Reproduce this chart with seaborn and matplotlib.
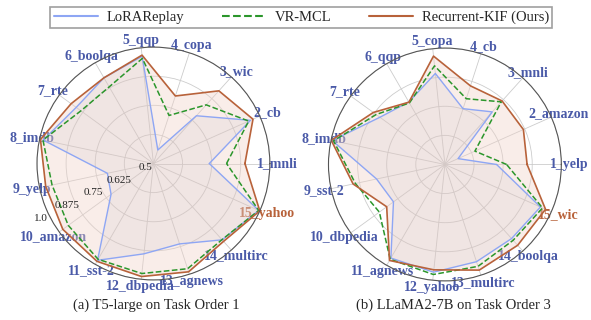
import numpy as np
import matplotlib
matplotlib.use('Agg')
import matplotlib.pyplot as plt
import seaborn as sns

# Data
left_labels = ['1_mnli', '2_cb', '3_wic', '4_copa', '5_qqp', '6_boolqa', '7_rte', '8_imdb',
               '9_yelp', '10_amazon', '11_sst-2', '12_dbpedia', '13_agnews', '14_multirc', '15_yahoo']
left_lora = [0.74, 0.956, 0.776, 0.561, 0.963, 0.925, 0.91, 0.984, 0.702, 0.725, 0.98, 0.89, 0.863, 0.941, 0.995]
left_vr = [0.814, 0.948, 0.839, 0.717, 0.954, 0.88, 0.885, 0.985, 0.945, 0.952, 0.975, 0.975, 0.975, 0.94, 0.995]
left_kif = [0.893, 0.968, 0.92, 0.805, 0.968, 0.925, 0.937, 0.996, 0.973, 0.981, 0.985, 0.988, 0.989, 0.95, 1.0]

right_labels = ['1_yelp', '2_amazon', '3_mnli', '4_cb', '5_copa', '6_qqp', '7_rte', '8_imdb',
                '9_sst-2', '10_dbpedia', '11_agnews', '12_yahoo', '13_multirc', '14_boolqa', '15_wic']
right_lora = [0.722, 0.562, 0.804, 0.752, 0.893, 0.81, 0.845, 0.995, 0.80, 0.773, 0.964, 0.965, 0.939, 0.928, 0.949]
right_vr = [0.765, 0.641, 0.862, 0.797, 0.926, 0.805, 0.865, 0.989, 0.893, 0.848, 0.97, 0.975, 0.96, 0.938, 0.959]
right_kif = [0.853, 0.869, 0.867, 0.855, 0.968, 0.809, 0.88, 0.999, 0.903, 0.809, 0.976, 0.955, 0.977, 0.967, 0.973]

radial_ticks = [0.5, 0.625, 0.75, 0.875, 1.0]
captions = ['(a) T5-large on Task Order 1', '(b) LLaMA2-7B on Task Order 3']
series_names = ['LoRAReplay', 'VR-MCL', 'Recurrent-KIF (Ours)']

sns.set_style('white')
plt.rcParams['font.family'] = ['Liberation Serif', 'DejaVu Serif']

c_lora = '#8ea6f4'
c_vr = '#2b962b'
c_kif = '#b8623a'
c_label = '#4a5aa8'

fig = plt.figure(figsize=(5.91, 3.2), dpi=100)
ax1 = fig.add_axes([0.0626, 0.125, 0.394, 0.728], projection='polar')
ax2 = fig.add_axes([0.5558, 0.122, 0.394, 0.728], projection='polar')


def radar(ax, labels, lora, vr, kif, show_r):
    n = len(labels)
    theta = np.arange(n) * 2 * np.pi / n
    th = np.append(theta, theta[0])
    # light fills: pink for ours, grey for LoRAReplay
    ax.fill(th, np.append(kif, kif[0]), color='#f0d2c8', alpha=0.4, lw=0)
    ax.fill(th, np.append(lora, lora[0]), color='#9a98a8', alpha=0.09, lw=0)
    series = [(lora, c_lora, '-', 1.0), (vr, c_vr, '--', 1.1), (kif, c_kif, '-', 1.2)]
    for vals, col, ls, lw in series:
        v = np.append(vals, vals[0])
        sns.lineplot(x=th, y=v, ax=ax, sort=False, estimator=None, color=col,
                     linestyle=ls, linewidth=lw)
    ax.set_ylim(0.5, 1.0)
    ax.set_yticks(radial_ticks)
    ax.set_yticklabels([])
    if show_r:
        ang = np.deg2rad(206)
        for t in radial_ticks:
            ax.text(ang, t + 0.037, str(t), fontsize=8, color='#222222',
                    ha='center', va='center')
    ax.set_xticks(theta)
    ax.set_xticklabels(labels, fontsize=10, fontweight='bold', color=c_label)
    ax.get_xticklabels()[-1].set_color(c_kif)
    ax.tick_params(axis='x', pad=-5)
    ax.grid(True, color='#cccccc', linewidth=0.6)
    ax.spines['polar'].set_color('#555555')
    ax.spines['polar'].set_linewidth(0.8)
    ax.set_xlabel('')
    ax.set_ylabel('')


radar(ax1, left_labels, left_lora, left_vr, left_kif, True)
radar(ax2, right_labels, right_lora, right_vr, right_kif, False)

handles = [plt.Line2D([], [], color=c_lora, lw=1.5),
           plt.Line2D([], [], color=c_vr, lw=1.5, ls='--'),
           plt.Line2D([], [], color=c_kif, lw=1.5)]
leg = fig.legend(handles, series_names, loc='upper center', bbox_to_anchor=(0.51, 1.0),
                 ncol=3, frameon=True, fancybox=False, edgecolor='#888888',
                 handlelength=3.0, columnspacing=2.6, fontsize=10.5,
                 borderpad=0.25, handletextpad=0.6)
leg.get_frame().set_linewidth(1.2)

fig.text(0.264, 0.045, captions[0], ha='center', va='center', fontsize=10.5)
fig.text(0.768, 0.045, captions[1], ha='center', va='center', fontsize=10.5)

fig.savefig('out.png', dpi=100)
